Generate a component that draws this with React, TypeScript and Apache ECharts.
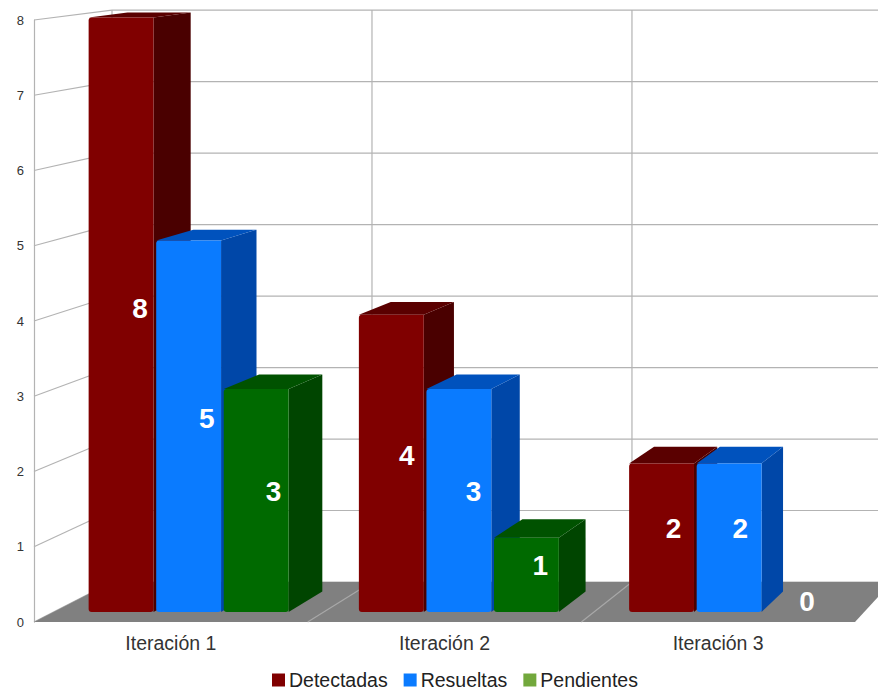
import React, { useEffect, useRef } from "react";
import * as echarts from "echarts";

const categories = ["Iteración 1", "Iteración 2", "Iteración 3"];
const seriesNames = ["Detectadas", "Resueltas", "Pendientes"];
const detectadas = [8, 4, 2];
const resueltas = [5, 3, 2];
const pendientes = [3, 1, 0];
const yTicks = [0, 1, 2, 3, 4, 5, 6, 7, 8];

// perspective parameters (layout only)
const VP = [1594, -178];
const S_FRONT = 0.9875;
const S_BACK = 0.962;
const S_WALL = 0.95;
const FONT = '"Liberation Sans", Arial, sans-serif';
const GRID_COLOR = "#b3b3b3";

function proj(p: number[], s: number) {
  return [VP[0] + s * (p[0] - VP[0]), VP[1] + s * (p[1] - VP[1])];
}

const palettes = [
  { front: "#800000", side: "#4a0000", top: "#5a0000", legend: "#800000" },
  { front: "#0a7bff", side: "#0047a8", top: "#0052bd", legend: "#0a7bff" },
  { front: "#006a00", side: "#004500", top: "#005200", legend: "#72a83c" },
];

function makeBarSeries(name: string, values: number[], idx: number) {
  const pal = palettes[idx];
  return {
    type: "custom",
    name,
    coordinateSystem: "cartesian2d",
    itemStyle: { color: pal.legend },
    z: 3,
    data: values.map((v, i) => [i, v]),
    renderItem: (params: any, api: any) => {
      const ci = api.value(0);
      const v = api.value(1);
      const top = api.coord([ci, v]);
      const bot = api.coord([ci, 0]);
      const W = api.size([1, 0])[0];
      const cx = top[0] + (idx - 1) * 0.25 * W;
      const hw = (0.24 * W) / 2;
      const x0 = cx - hw;
      const x1 = cx + hw;
      const yT = top[1];
      const yB = bot[1];
      const children: any[] = [];
      if (v > 0) {
        const side = [
          proj([x1, yT], S_FRONT),
          proj([x1, yT], S_BACK),
          proj([x1, yB], S_BACK),
          proj([x1, yB], S_FRONT),
        ];
        const topFace = [
          proj([x0, yT], S_FRONT),
          proj([x1, yT], S_FRONT),
          proj([x1, yT], S_BACK),
          proj([x0, yT], S_BACK),
        ];
        const f0 = proj([x0, yT], S_FRONT);
        const f1 = proj([x1, yB], S_FRONT);
        children.push({ type: "polygon", shape: { points: side }, style: { fill: pal.side } });
        children.push({ type: "polygon", shape: { points: topFace }, style: { fill: pal.top } });
        children.push({
          type: "rect",
          shape: { x: f0[0], y: f0[1], width: f1[0] - f0[0], height: f1[1] - f0[1], r: [3, 0, 3, 3] },
          style: { fill: pal.front },
        });
      }
      const c = proj([cx, (yT + yB) / 2], (S_FRONT + S_BACK) / 2);
      children.push({
        type: "text",
        z2: 10,
        style: {
          text: String(v),
          x: c[0],
          y: c[1],
          align: "center",
          verticalAlign: "middle",
          fill: "#ffffff",
          font: `bold 28px ${FONT}`,
        },
      });
      return { type: "group", children };
    },
  };
}

const frameSeries = {
  type: "custom",
  name: "__frame",
  coordinateSystem: "cartesian2d",
  silent: true,
  z: 1,
  data: [[0, 0]],
  renderItem: (params: any, api: any) => {
    const W = api.size([1, 0])[0];
    const xL = api.coord([0, 0])[0] - W / 2;
    const xR = api.coord([categories.length - 1, 0])[0] + W / 2;
    const y0 = api.coord([0, 0])[1];
    const yMax = api.coord([0, yTicks[yTicks.length - 1]])[1];
    const children: any[] = [];
    const line = (a: number[], b: number[], color = GRID_COLOR) => ({
      type: "line",
      shape: { x1: a[0], y1: a[1], x2: b[0], y2: b[1] },
      style: { stroke: color, lineWidth: 1.2 },
    });
    yTicks.forEach((t) => {
      const y = api.coord([0, t])[1];
      children.push(line([xL, y], proj([xL, y], S_WALL)));
      children.push(line(proj([xL, y], S_WALL), proj([xR, y], S_WALL)));
    });
    for (let i = 0; i <= categories.length; i++) {
      const x = xL + i * W;
      children.push(line(proj([x, y0], S_WALL), proj([x, yMax], S_WALL)));
    }
    children.push({
      type: "polygon",
      shape: { points: [[xL, y0], [xR, y0], proj([xR, y0], S_WALL), proj([xL, y0], S_WALL)] },
      style: { fill: "#808080" },
    });
    for (let i = 1; i < categories.length; i++) {
      const x = xL + i * W;
      children.push(line([x, y0], proj([x, y0], S_WALL), "#a8a8a8"));
    }
    return { type: "group", children };
  },
};

export default function App() {
  const ref = useRef<HTMLDivElement>(null);
  useEffect(() => {
    if (!ref.current) return;
    const chart = echarts.init(ref.current, null, { renderer: "svg" });
    chart.setOption({
      animation: false,
      backgroundColor: "#ffffff",
      grid: { left: 34, top: 20, width: 821, height: 602 },
      legend: {
        data: seriesNames,
        left: 267,
        top: 665,
        icon: "rect",
        itemWidth: 13,
        itemHeight: 13,
        itemGap: 16,
        textStyle: { fontSize: 19.5, color: "#222", fontFamily: FONT, padding: [0, 0, 0, -1] },
      },
      xAxis: {
        type: "category",
        data: categories,
        axisLine: { show: false },
        axisTick: { show: false },
        splitLine: { show: false },
        axisLabel: { fontSize: 19.5, color: "#333", fontFamily: FONT, margin: 11 },
      },
      yAxis: {
        type: "value",
        min: 0,
        max: 8,
        interval: 1,
        axisLine: { show: true, lineStyle: { color: GRID_COLOR, width: 1.2 } },
        axisTick: { show: false },
        splitLine: { show: false },
        axisLabel: { fontSize: 13, color: "#333", fontFamily: FONT, margin: 10 },
      },
      series: [
        frameSeries,
        makeBarSeries(seriesNames[0], detectadas, 0),
        makeBarSeries(seriesNames[1], resueltas, 1),
        makeBarSeries(seriesNames[2], pendientes, 2),
      ],
    });
    return () => chart.dispose();
  }, []);
  return (
    <div
      ref={ref}
      style={{ position: "absolute", left: 0, top: 0, width: 878, height: 696 }}
    />
  );
}
